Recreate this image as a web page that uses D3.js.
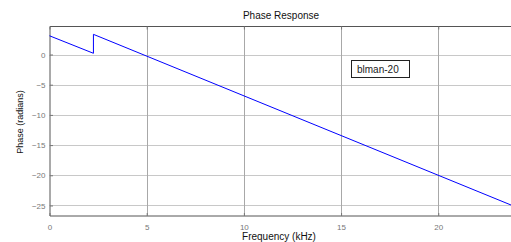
<!DOCTYPE html>
<html>
<head>
<meta charset="utf-8">
<script src="https://cdn.jsdelivr.net/npm/d3@7"></script>
<style>
  body { margin: 0; background: #fff; }
  svg { display: block; font-family: "Liberation Sans", Arial, sans-serif; }
</style>
</head>
<body>
<svg class="chart" width="511" height="242"></svg>
<script>
// Phase response data (kHz, radians)
const freqKHz = [0, 2.26, 2.26, 24];
const phaseRad = [3.1, 0.2, 3.34, -25.26];
const xTicks = [0, 5, 10, 15, 20];
const yTicks = [0, -5, -10, -15, -20, -25];
const legendLabel = "blman-20";

const svg = d3.select(".chart");
const margin = { top: 26, left: 49.5, bottom: 215.5, right: 516 };

const x = d3.scaleLinear().domain([0, 24]).range([margin.left, margin.right]);
const y = d3.scaleLinear().domain([-26.66, 4.72]).range([margin.bottom, margin.top]);

// grid lines
svg.append("g").selectAll("line")
  .data(yTicks)
  .enter().append("line")
  .attr("x1", margin.left).attr("x2", margin.right)
  .attr("y1", d => Math.round(y(d)) + 0.5).attr("y2", d => Math.round(y(d)) + 0.5)
  .attr("stroke", "#c8c8c8").attr("stroke-width", 1);

svg.append("g").selectAll("line")
  .data(xTicks.slice(1))
  .enter().append("line")
  .attr("x1", d => Math.round(x(d)) + 0.5).attr("x2", d => Math.round(x(d)) + 0.5)
  .attr("y1", margin.top).attr("y2", margin.bottom)
  .attr("stroke", "#a8a8a8").attr("stroke-width", 1);

// frame (left, top, bottom)
svg.append("path")
  .attr("d", `M${margin.right},${margin.top + 0.5}H${margin.left + 0.5}V${margin.bottom + 0.5}H${margin.right}`)
  .attr("fill", "none").attr("stroke", "#555").attr("stroke-width", 1);

// inner tick marks
const xAxisB = d3.axisBottom(x).tickValues(xTicks).tickSize(-3).tickFormat(d => d).tickPadding(8);
const gx = svg.append("g").attr("transform", `translate(0,${margin.bottom + 0.5})`).call(xAxisB);
gx.select(".domain").remove();
gx.selectAll("line").attr("stroke", "#777");
gx.selectAll("text").attr("fill", "#777").style("font-size", "8px").attr("dy", "0.71em");

const xAxisT = d3.axisTop(x).tickValues(xTicks).tickSize(-3).tickFormat("");
const gxt = svg.append("g").attr("transform", `translate(0,${margin.top + 0.5})`).call(xAxisT);
gxt.select(".domain").remove();
gxt.selectAll("line").attr("stroke", "#777");

const yAxis = d3.axisLeft(y).tickValues(yTicks).tickSize(-3).tickPadding(4.5);
const gy = svg.append("g").attr("transform", `translate(${margin.left + 0.5},0)`).call(yAxis);
gy.select(".domain").remove();
gy.selectAll("line").attr("stroke", "#777");
gy.selectAll("text").attr("fill", "#777").style("font-size", "8px");

// phase line
const pts = freqKHz.map((f, i) => [f, phaseRad[i]]);
svg.append("path")
  .datum(pts)
  .attr("d", d3.line().x(d => x(d[0])).y(d => y(d[1])))
  .attr("fill", "none").attr("stroke", "#0000ff").attr("stroke-width", 1);

// title and labels
svg.append("text")
  .attr("x", 281).attr("y", 18.5)
  .attr("text-anchor", "middle")
  .style("font-size", "10px").attr("fill", "#111")
  .text("Phase Response");

svg.append("text")
  .attr("x", 279).attr("y", 240)
  .attr("text-anchor", "middle")
  .style("font-size", "10px").attr("fill", "#111")
  .text("Frequency (kHz)");

svg.append("text")
  .attr("transform", "translate(23,122) rotate(-90)")
  .attr("text-anchor", "middle")
  .style("font-size", "9px").attr("fill", "#111")
  .text("Phase (radians)");

// legend box
svg.append("rect")
  .attr("x", 351.5).attr("y", 60.5).attr("width", 58).attr("height", 17)
  .attr("fill", "#fff").attr("stroke", "#222").attr("stroke-width", 1);
svg.append("text")
  .attr("x", 357).attr("y", 73)
  .style("font-size", "10px").attr("fill", "#222")
  .text(legendLabel);
</script>
</body>
</html>
